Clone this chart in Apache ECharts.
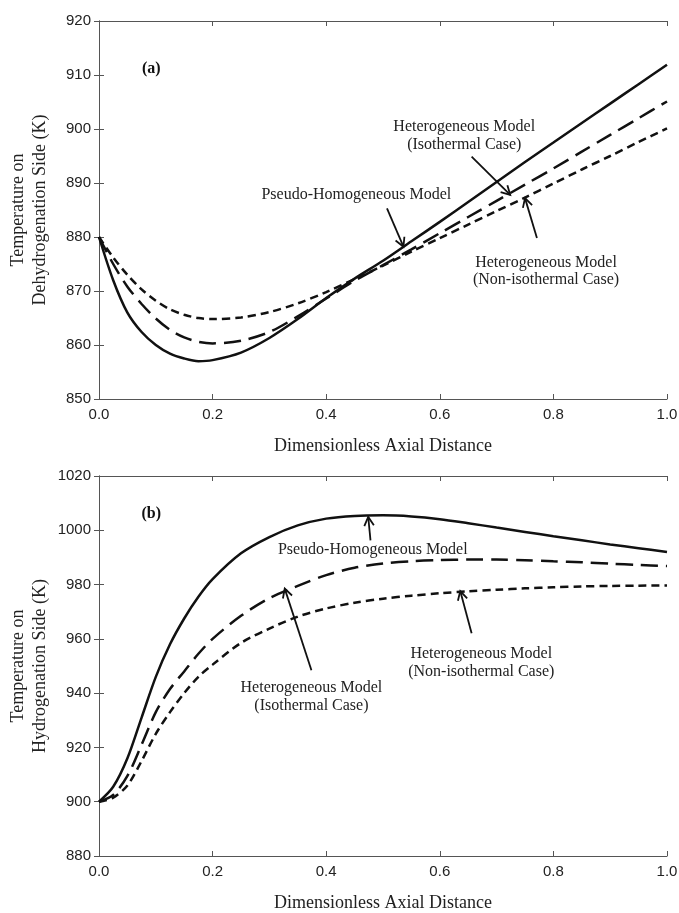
<!DOCTYPE html>
<html><head><meta charset="utf-8">
<script src="https://cdn.jsdelivr.net/npm/echarts@6/dist/echarts.min.js"></script>
<style>html,body{margin:0;padding:0;background:#fff}#c{width:679px;height:913px}</style>
</head><body><div id="c"></div>
<script>
// ---- data ----
const xs = [0,0.025,0.05,0.075,0.1,0.125,0.15,0.175,0.2,0.25,0.3,0.35,0.4,0.45,0.5,0.55,0.6,0.65,0.7,0.75,0.8,0.85,0.9,0.95,1.0];
// panel (a): dehydrogenation side
const aPseudo = [880,872.0,866.0,862.4,860.0,858.4,857.5,857.0,857.2,858.6,861.3,864.8,868.7,872.3,875.6,879.2,882.8,886.5,890.2,893.9,897.5,901.1,904.7,908.3,911.9];
const aIso    = [880,875.0,870.8,867.6,864.9,862.8,861.4,860.6,860.3,860.8,862.4,865.3,868.6,871.9,874.8,877.7,880.7,883.7,886.7,889.7,892.7,895.8,898.9,902.0,905.1];
const aNonIso = [880,876.2,873.0,870.3,868.2,866.6,865.6,865.0,864.8,865.1,866.1,867.7,869.8,872.2,874.7,877.3,879.8,882.3,884.8,887.3,889.9,892.5,895.0,897.6,900.1];
// panel (b): hydrogenation side
const bPseudo = [900,905.5,916,931,946,958,967.5,975.5,982,991.5,997.5,1001.8,1004.3,1005.3,1005.5,1005.1,1004.1,1002.6,1001.0,999.4,997.8,996.3,994.8,993.4,992.0];
const bIso    = [900,902.5,909.5,921,933,941.5,948,954.5,960,968.5,975,979.5,983.5,986.2,987.8,988.6,989.0,989.2,989.2,989.0,988.6,988.2,987.7,987.2,986.8];
const bNonIso = [900,901.5,906,915,925,933,940,946,950.5,958.5,963.8,968.2,971.2,973.3,974.8,975.9,976.8,977.5,978.1,978.6,979.0,979.3,979.5,979.6,979.7];

const xTitle = 'Dimensionless Axial Distance';
const yTitleA = 'Temperature on\nDehydrogenation Side (K)';
const yTitleB = 'Temperature on\nHydrogenation Side (K)';
const yRangeA = [850, 920, 10];
const yRangeB = [880, 1020, 20];

// annotations in data coordinates
const panelLabels = [
  {panel:0, text:'(a)', at:[0.092, 911.1]},
  {panel:1, text:'(b)', at:[0.092, 1006.1]}
];
const notes = [
  {panel:0, lines:['Pseudo-Homogeneous Model'], at:[[0.453,887.8]], from:[0.507,885.3], to:[0.536,878.2]},
  {panel:0, lines:['Heterogeneous Model','(Isothermal Case)'], at:[[0.643,900.4],[0.643,897.0]], from:[0.656,894.9], to:[0.724,887.8]},
  {panel:0, lines:['Heterogeneous Model','(Non-isothermal Case)'], at:[[0.787,875.2],[0.787,872.0]], from:[0.771,879.8], to:[0.750,887.2]},
  {panel:1, lines:['Pseudo-Homogeneous Model'], at:[[0.482,992.9]], from:[0.478,996.3], to:[0.474,1004.9]},
  {panel:1, lines:['Heterogeneous Model','(Isothermal Case)'], at:[[0.374,941.9],[0.374,935.4]], from:[0.374,948.4], to:[0.327,978.5]},
  {panel:1, lines:['Heterogeneous Model','(Non-isothermal Case)'], at:[[0.673,954.5],[0.673,947.8]], from:[0.656,962.1], to:[0.636,977.6]}
];

// ---- chart ----
const serif = '"Liberation Serif","Times New Roman",serif';
const sans = '"Liberation Sans",Arial,sans-serif';
const frame = '#555';
const ink = '#111';
const chart = echarts.init(document.getElementById('c'), null, {renderer:'canvas'});
const pair = ys => xs.map((x,i)=>[x, ys[i]]);

function xAxes(gi){
  const common = {type:'value', gridIndex:gi, min:0, max:1, interval:0.2,
    axisLine:{lineStyle:{color:frame,width:1}},
    axisTick:{inside:true,length:5,lineStyle:{color:frame}},
    splitLine:{show:false}};
  return [
    Object.assign({}, common, {position:'bottom',
      axisLabel:{color:'#222', fontFamily:sans, fontSize:15, margin:8, formatter:v=>v.toFixed(1)},
      name:xTitle, nameLocation:'middle', nameGap:38, nameMoveOverlap:false,
      nameTextStyle:{fontFamily:serif, fontSize:18, color:'#222'}}),
    Object.assign({}, common, {position:'top', axisLabel:{show:false}})
  ];
}
function yAxes(gi, r, title){
  const common = {type:'value', gridIndex:gi, min:r[0], max:r[1], interval:r[2],
    axisLine:{lineStyle:{color:frame,width:1}},
    axisTick:{inside:true,length:5,lineStyle:{color:frame}},
    splitLine:{show:false}};
  return [
    Object.assign({}, common, {position:'left',
      axisLabel:{color:'#222', fontFamily:sans, fontSize:15, margin:8, formatter:v=>String(v)},
      name:title, nameLocation:'middle', nameRotate:90, nameGap:48, nameMoveOverlap:false,
      nameTextStyle:{fontFamily:serif, fontSize:18, color:'#222', lineHeight:22, align:'center'}}),
    Object.assign({}, common, {position:'right', axisLabel:{show:false}})
  ];
}
function line(data, xi, yi, dash){
  return {type:'line', data:pair(data), xAxisIndex:xi, yAxisIndex:yi, showSymbol:false,
    smooth:0.3, animation:false,
    lineStyle:{color:ink, width:2.5, type:dash||'solid', cap:'butt'}};
}
const longDash = [17,8];
const shortDash = [8,5];

chart.setOption({
  animation:false,
  grid:[
    {left:99, right:12, top:21, height:378, containLabel:false, outerBoundsMode:'none'},
    {left:99, right:12, top:476, height:380, containLabel:false, outerBoundsMode:'none'}
  ],
  xAxis:[...xAxes(0), ...xAxes(1)],
  yAxis:[...yAxes(0, yRangeA, yTitleA), ...yAxes(1, yRangeB, yTitleB)],
  series:[
    line(aPseudo,0,0), line(aIso,0,0,longDash), line(aNonIso,0,0,shortDash),
    line(bPseudo,2,2), line(bIso,2,2,longDash), line(bNonIso,2,2,shortDash)
  ]
});

function px(panel, pt){ return chart.convertToPixel({seriesIndex: panel===0?0:3}, pt); }
const g = [];
panelLabels.forEach(p=>{
  const [x,y] = px(p.panel, p.at);
  g.push({type:'text', x, y, style:{text:p.text, font:'bold 16px '+serif, fill:'#111', align:'center', verticalAlign:'middle'}});
});
notes.forEach(n=>{
  n.lines.forEach((t,i)=>{
    const [x,y] = px(n.panel, n.at[i]);
    g.push({type:'text', x, y, style:{text:t, font:'16px '+serif, fill:'#222', align:'center', verticalAlign:'middle'}});
  });
  const a = px(n.panel, n.from), b = px(n.panel, n.to);
  g.push({type:'polyline', shape:{points:[a,b]}, style:{stroke:'#111', lineWidth:1.8, fill:null}});
  const dx=b[0]-a[0], dy=b[1]-a[1], L=Math.hypot(dx,dy), ux=dx/L, uy=dy/L;
  const ang=0.5, len=10;
  const w = s => [b[0]-len*(ux*Math.cos(ang)-s*uy*Math.sin(ang)), b[1]-len*(uy*Math.cos(ang)+s*ux*Math.sin(ang))];
  g.push({type:'polyline', shape:{points:[w(1), b, w(-1)]}, style:{stroke:'#111', lineWidth:1.8, fill:null}});
});
chart.setOption({graphic:g});
</script>
</body></html>
